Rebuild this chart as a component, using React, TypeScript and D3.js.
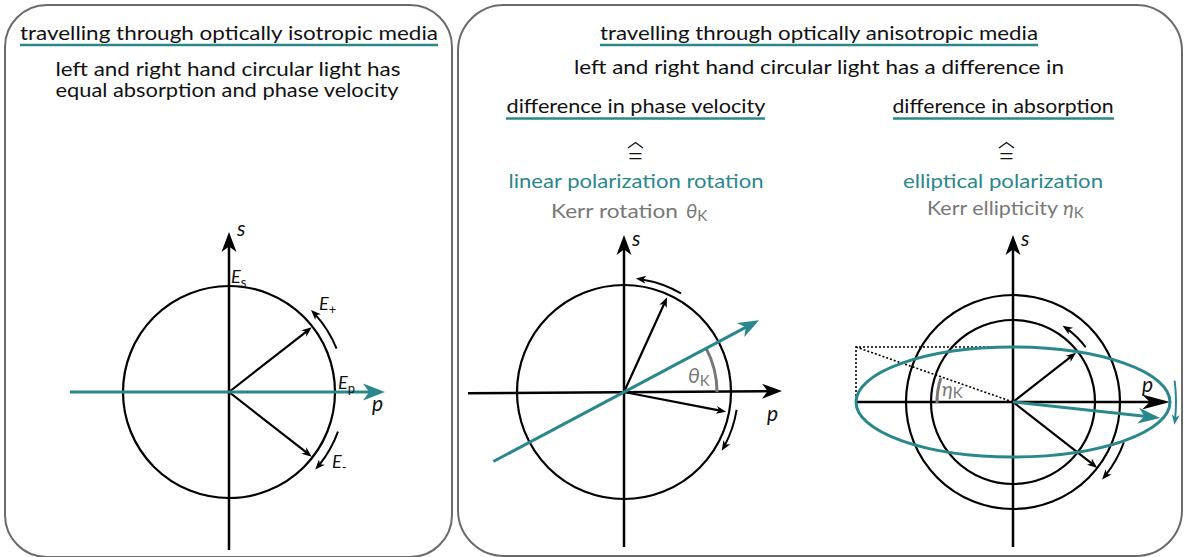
import React from 'react';
import * as d3 from 'd3';

const TEAL = '#2a878c';
const GRAY = '#777777';
const BOX = '#6b6b6b';
const FONT = "Lato, 'Open Sans', sans-serif";
const TW = 400;

// ---- texts ----
const leftTitle = 'travelling through optically isotropic media';
const leftLines = ['left and right hand circular light has', 'equal absorption and phase velocity'];
const rightTitle = 'travelling through optically anisotropic media';
const rightLine = 'left and right hand circular light has a difference in';
const subTitles = ['difference in phase velocity', 'difference in absorption'];
const effects = ['linear polarization rotation', 'elliptical polarization'];
const kerrNames = ['Kerr rotation', 'Kerr ellipticity'];
const kerrSymbols = ['θ', 'η'];

// ---- geometry values (degrees / relative lengths) ----
const leftVectorAngles = [38, -38];
const leftArcs = [[22, 45], [-20, -42]];
const midVectorAngles = [65.5, -11];
const midArcs = [[60, 84], [-9, -31]];
const kerrRotation = [28];
const rightRadii = [107, 82];
const rightVectors = [{ angle: 38, len: 80 }, { angle: -38, len: 107 }];
const rightArcs = [{ r: 91, a0: 37, a1: 57 }, { r: 118, a0: -20, a1: -41 }];
const ellipseAxes = [157, 55];
const tealVector = [{ angle: -6.2, len: 148 }];
const tealSpin = [{ r: 163, a0: 7.5, a1: -8 }];

type P = [number, number];
const rad = (d: number) => (d * Math.PI) / 180;
const pt = (c: P, r: number, deg: number): P => [c[0] + r * Math.cos(rad(deg)), c[1] - r * Math.sin(rad(deg))];

function headPath(tip: P, dir: P, L: number, W: number) {
  const n = Math.hypot(dir[0], dir[1]);
  const dx = dir[0] / n, dy = dir[1] / n;
  const nx = -dy, ny = dx;
  const bx = tip[0] - L * dx, by = tip[1] - L * dy;
  const ix = tip[0] - 0.72 * L * dx, iy = tip[1] - 0.72 * L * dy;
  const p = d3.path();
  p.moveTo(tip[0], tip[1]);
  p.lineTo(bx + W * nx, by + W * ny);
  p.lineTo(ix, iy);
  p.lineTo(bx - W * nx, by - W * ny);
  p.closePath();
  return p.toString();
}

function Arrow({ from, to, color = '#000', sw = 2.2, L = 10, W = 4 }: { from: P; to: P; color?: string; sw?: number; L?: number; W?: number }) {
  const dx = to[0] - from[0], dy = to[1] - from[1];
  const n = Math.hypot(dx, dy);
  const end: P = [to[0] - (dx / n) * L * 0.6, to[1] - (dy / n) * L * 0.6];
  const line = d3.line()([from, end]) as string;
  return (
    <g>
      <path d={line} stroke={color} strokeWidth={sw} fill="none" />
      <path d={headPath(to, [dx, dy], L, W)} fill={color} />
    </g>
  );
}

function ArcArrow({ c, r, a0, a1, color = '#000', sw = 2, L = 10, W = 4 }: { c: P; r: number; a0: number; a1: number; color?: string; sw?: number; L?: number; W?: number }) {
  const s = Math.sign(a1 - a0);
  const back = ((L * 0.6) / r) * (180 / Math.PI);
  const aEnd = a1 - s * back;
  const p = d3.path();
  const st = pt(c, r, a0);
  p.moveTo(st[0], st[1]);
  p.arc(c[0], c[1], r, -rad(a0), -rad(aEnd), s > 0);
  const tip = pt(c, r, a1);
  const dir: P = [s * -Math.sin(rad(a1)), s * -Math.cos(rad(a1))];
  return (
    <g>
      <path d={p.toString()} stroke={color} strokeWidth={sw} fill="none" />
      <path d={headPath(tip, dir, L, W)} fill={color} />
    </g>
  );
}

function plainArc(c: P, r: number, a0: number, a1: number) {
  const p = d3.path();
  const st = pt(c, r, a0);
  p.moveTo(st[0], st[1]);
  p.arc(c[0], c[1], r, -rad(a0), -rad(a1), a1 > a0);
  return p.toString();
}

function Line({ x, y, text, len, color = '#111', size = 19, anchor = 'middle' }: { x: number; y: number; text: string; len: number; color?: string; size?: number; anchor?: string }) {
  return (
    <text x={x} y={y} textAnchor={anchor} fontFamily={FONT} fontWeight={TW} fontSize={size} fill={color} textLength={len} lengthAdjust="spacingAndGlyphs">{text}</text>
  );
}

function Title({ x, y, text, len, under }: { x: number; y: number; text: string; len: number; under: [number, number, number] }) {
  return (
    <g>
      <Line x={x} y={y} text={text} len={len} />
      <line x1={under[0]} x2={under[1]} y1={under[2]} y2={under[2]} stroke={TEAL} strokeWidth={2.6} />
    </g>
  );
}

function Label({ x, y, main, sub, size = 18, color = '#111' }: { x: number; y: number; main: string; sub?: string; size?: number; color?: string }) {
  return (
    <text x={x} y={y} fontFamily={FONT} fontSize={size} fill={color}>
      <tspan fontStyle="italic">{main}</tspan>
      {sub ? <tspan fontSize={size * 0.72} dy={size * 0.2}>{sub}</tspan> : null}
    </text>
  );
}

// "corresponds to" sign: equals text with a wide hat above
function Hat({ x, y }: { x: number; y: number }) {
  const caret = d3.line()([[x - 7.5, y - 17.5], [x, y - 23], [x + 7.5, y - 17.5]]) as string;
  return (
    <g>
      <text x={x} y={y} textAnchor="middle" fontFamily={FONT} fontWeight={300} fontSize={29} fill="#111">=</text>
      <path d={caret} fill="none" stroke="#111" strokeWidth={1.3} />
    </g>
  );
}

export default function App() {
  const cL: P = [229, 392];
  const RL = 106;
  const cM: P = [624, 392];
  const RM = 107;
  const cR: P = [1013, 402];

  const ell = ellipseAxes;
  const etaAngle = (Math.atan2(ell[1], ell[0]) * 180) / Math.PI;

  return (
    <svg width={1184} height={557} style={{ position: 'absolute', left: 0, top: 0, display: 'block', background: '#fff' }}>
      {/* boxes */}
      <rect x={5} y={5} width={447} height={552} rx={42} fill="none" stroke={BOX} strokeWidth={2} />
      <rect x={458} y={5} width={724} height={551} rx={46} fill="none" stroke={BOX} strokeWidth={2} />

      {/* left texts */}
      <Title x={229} y={40} text={leftTitle} len={418} under={[20, 438, 45]} />
      <Line x={228} y={76} text={leftLines[0]} len={345} />
      <Line x={227} y={97} text={leftLines[1]} len={343} />

      {/* right texts */}
      <Title x={819} y={40} text={rightTitle} len={438} under={[600, 1038, 45]} />
      <Line x={819} y={74} text={rightLine} len={490} />

      <Title x={636} y={113} text={subTitles[0]} len={259} under={[506, 765, 118.5]} />
      <Title x={1003} y={113} text={subTitles[1]} len={221} under={[893, 1114, 118.5]} />
      <Hat x={635.5} y={165.5} />
      <Hat x={1006.5} y={165.5} />
      <Line x={636} y={188} text={effects[0]} len={255} color={TEAL} />
      <Line x={1003} y={187.5} text={effects[1]} len={200} color={TEAL} />

      <Line x={551} y={218} text={kerrNames[0]} len={127} color={GRAY} anchor="start" />
      <text x={686} y={218} fontFamily={FONT} fontSize={20} fill={GRAY}>
        <tspan fontStyle="italic">{kerrSymbols[0]}</tspan><tspan fontSize={15} dy={3}>K</tspan>
      </text>
      <Line x={927} y={215} text={kerrNames[1]} len={131} color={GRAY} anchor="start" />
      <text x={1063} y={215} fontFamily={FONT} fontSize={20} fill={GRAY}>
        <tspan fontStyle="italic">{kerrSymbols[1]}</tspan><tspan fontSize={15} dy={3}>K</tspan>
      </text>

      {/* ===== left diagram ===== */}
      <circle cx={cL[0]} cy={cL[1]} r={RL} fill="none" stroke="#000" strokeWidth={2.2} />
      <Arrow from={[cL[0], 550]} to={[cL[0], 232]} sw={2.5} L={20} W={7.5} />
      {leftVectorAngles.map((a, i) => (
        <Arrow key={i} from={cL} to={pt(cL, RL - 1, a)} sw={2.2} L={10} W={4} />
      ))}
      {leftArcs.map((a, i) => (
        <ArcArrow key={i} c={cL} r={116} a0={a[0]} a1={a[1]} />
      ))}
      <Arrow from={[70, cL[1]]} to={[385, cL[1]]} color={TEAL} sw={3} L={22} W={8.5} />
      <Label x={237} y={236} main="s" size={21} />
      <Label x={372} y={411} main="p" size={21} />
      <Label x={231} y={283} main="E" sub="s" />
      <Label x={338} y={389} main="E" sub="p" />
      <Label x={319} y={310} main="E" sub="+" />
      <Label x={332} y={468} main="E" sub="-" />

      {/* ===== middle diagram ===== */}
      <circle cx={cM[0]} cy={cM[1]} r={RM} fill="none" stroke="#000" strokeWidth={2.2} />
      <Arrow from={[468, 393.2]} to={[782, 391]} sw={2.5} L={20} W={7.5} />
      <Arrow from={[cM[0], 547]} to={[cM[0], 235]} sw={2.5} L={20} W={7.5} />
      {midVectorAngles.map((a, i) => (
        <Arrow key={i} from={cM} to={pt(cM, RM - 3, a)} sw={2.2} L={10} W={4} />
      ))}
      {midArcs.map((a, i) => (
        <ArcArrow key={i} c={cM} r={114} a0={a[0]} a1={a[1]} />
      ))}
      {kerrRotation.map((a, i) => (
        <g key={i}>
          <path d={plainArc(cM, 93, 0, a)} fill="none" stroke={GRAY} strokeWidth={3} />
          <Arrow from={pt(cM, 148, a + 180)} to={pt(cM, 153, a)} color={TEAL} sw={3} L={21} W={8} />
        </g>
      ))}
      <text x={688} y={383} fontFamily={FONT} fontSize={21} fill={GRAY}>
        <tspan fontStyle="italic">θ</tspan><tspan fontSize={15} dy={3}>K</tspan>
      </text>
      <Label x={632} y={246} main="s" size={21} />
      <Label x={767} y={421} main="p" size={21} />

      {/* ===== right diagram ===== */}
      {rightRadii.map((r, i) => (
        <circle key={i} cx={cR[0]} cy={cR[1]} r={r} fill="none" stroke="#000" strokeWidth={2.2} />
      ))}
      <Arrow from={[cR[0], 547]} to={[cR[0], 235]} sw={2.5} L={20} W={7.5} />
      <Arrow from={[cR[0] - ell[0], cR[1]]} to={[1170, cR[1]]} sw={2.5} L={28} W={7.5} />
      {rightVectors.map((v, i) => (
        <Arrow key={i} from={cR} to={pt(cR, v.len, v.angle)} sw={2.2} L={10} W={4} />
      ))}
      {rightArcs.map((a, i) => (
        <ArcArrow key={i} c={cR} r={a.r} a0={a.a0} a1={a.a1} />
      ))}
      <path
        d={d3.line()([[cR[0], cR[1] - ell[1]], [cR[0] - ell[0], cR[1] - ell[1]], [cR[0] - ell[0], cR[1]]]) as string}
        fill="none" stroke="#000" strokeWidth={1.6} strokeDasharray="2,2"
      />
      <path d={d3.line()([[cR[0] - ell[0], cR[1] - ell[1]], cR]) as string} fill="none" stroke="#000" strokeWidth={1.6} strokeDasharray="2,2" />
      <path d={plainArc(cR, 76, 180 - etaAngle + 1, 181)} fill="none" stroke={GRAY} strokeWidth={3} />
      <text x={942} y={396} fontFamily={FONT} fontSize={20} fill={GRAY}>
        <tspan fontStyle="italic">η</tspan><tspan fontSize={15} dy={2}>K</tspan>
      </text>
      <ellipse cx={cR[0]} cy={cR[1]} rx={ell[0]} ry={ell[1]} fill="none" stroke={TEAL} strokeWidth={3} />
      {tealVector.map((v, i) => (
        <Arrow key={i} from={cR} to={pt(cR, v.len, v.angle)} color={TEAL} sw={3} L={22} W={8} />
      ))}
      {tealSpin.map((a, i) => (
        <ArcArrow key={i} c={cR} r={a.r} a0={a.a0} a1={a.a1} color={TEAL} sw={2} L={10} W={4} />
      ))}
      <Label x={1021} y={246} main="s" size={21} />
      <Label x={1142} y={392} main="p" size={21} />
    </svg>
  );
}
